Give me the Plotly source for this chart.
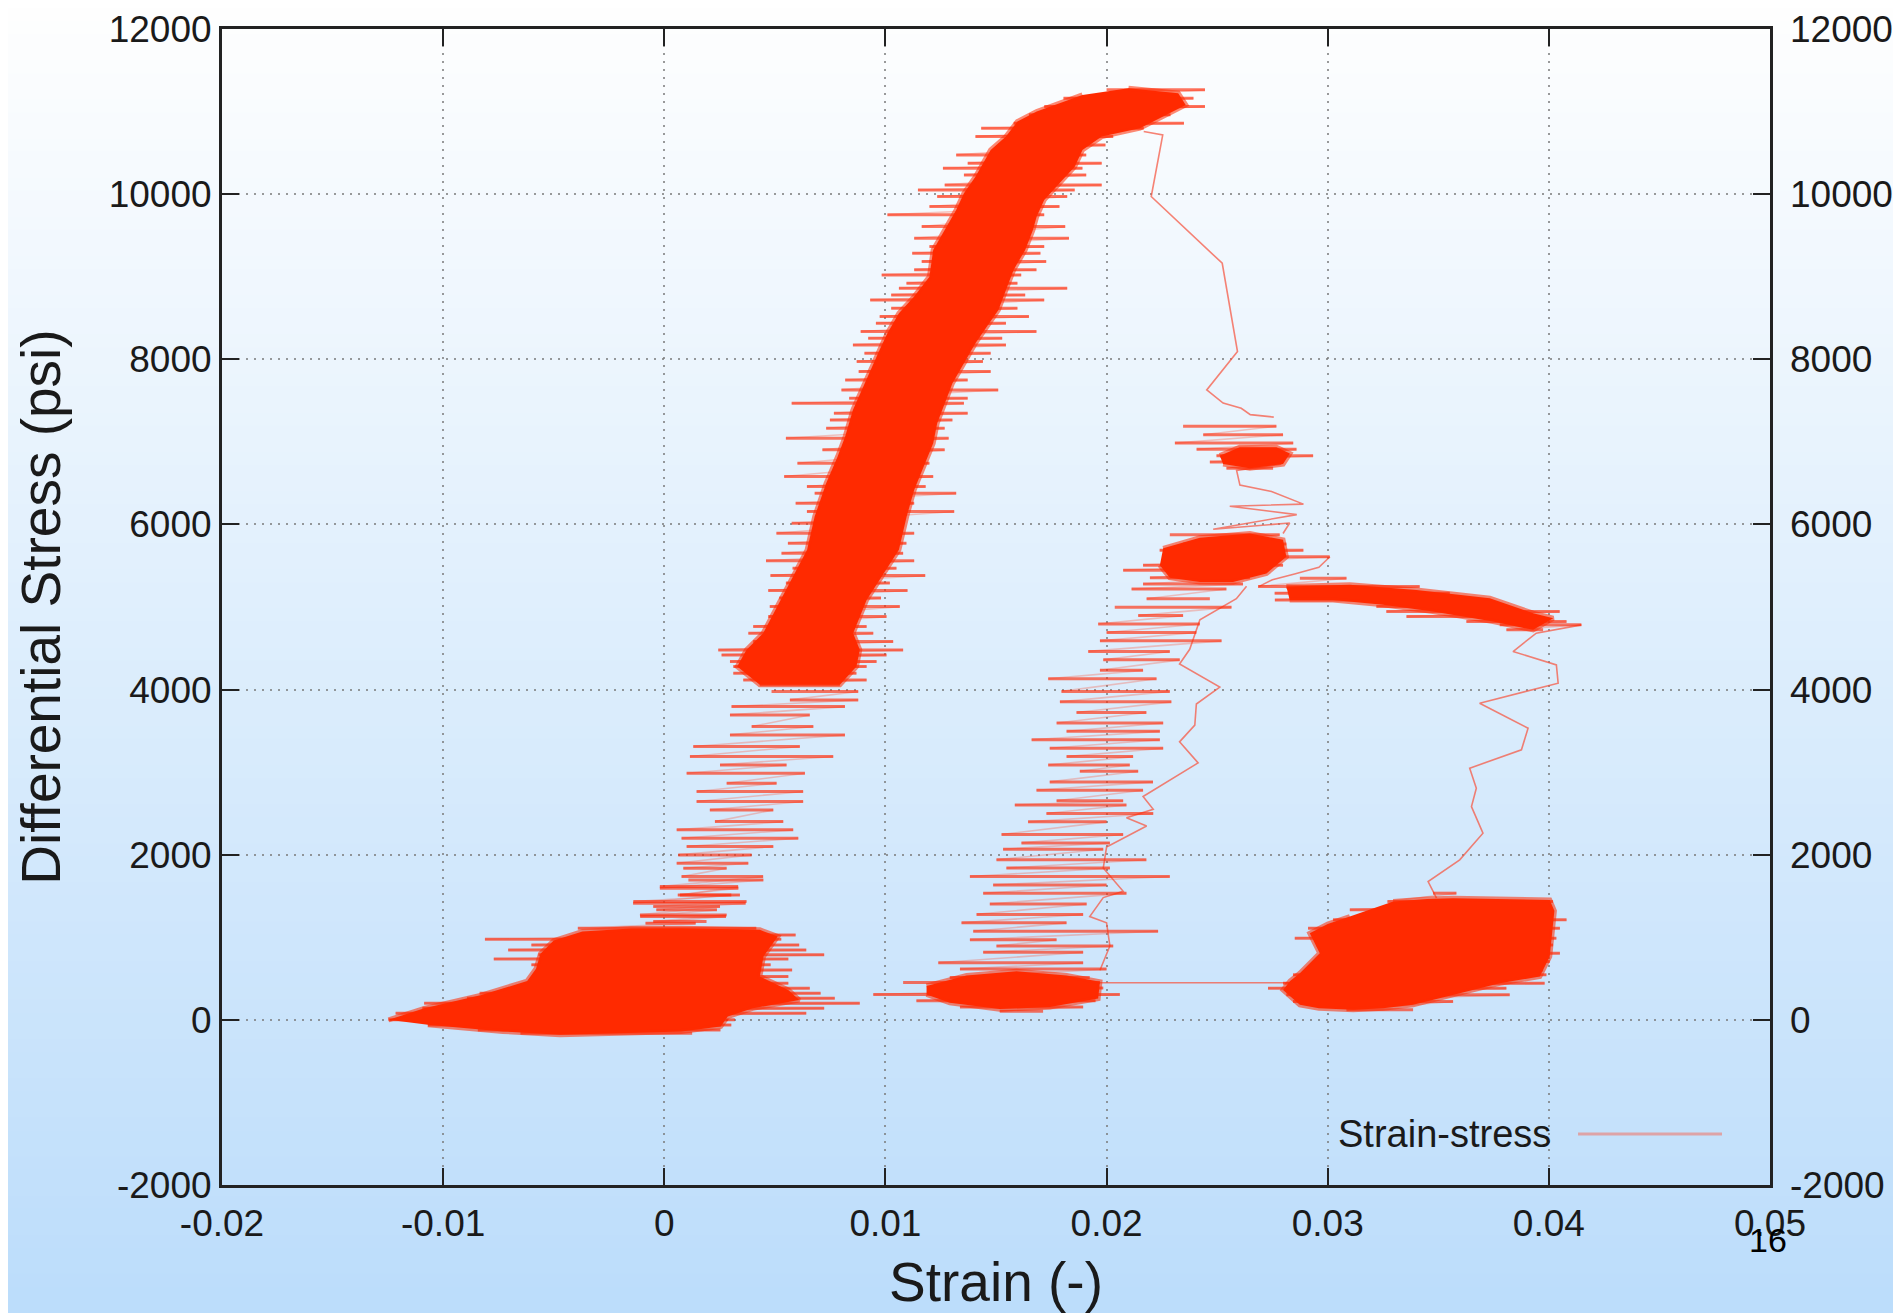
import plotly.graph_objects as go

# ---- axes ----
strain_ticks = [-0.02, -0.01, 0, 0.01, 0.02, 0.03, 0.04, 0.05]
strain_tick_text = ['-0.02', '-0.01', '0', '0.01', '0.02', '0.03', '0.04', '0.05']
stress_ticks = [-2000, 0, 2000, 4000, 6000, 8000, 10000, 12000]
stress_tick_text = ['-2000', '0', '2000', '4000', '6000', '8000', '10000', '12000']

# ---- dense cores (outlines) ----
bl_core_strain = [-0.01247, -0.01085, -0.00827, -0.0062, -0.0058, -0.0056, -0.0050, -0.0037, -0.0015, 0.00077,
                  0.00432, 0.00513, 0.00449, 0.00432, 0.00562, 0.0061, 0.0040, 0.00287, 0.00255, 0.00077,
                  -0.00165, -0.00472, -0.0073, -0.01069]
bl_core_stress = [0, 140, 300, 470, 620, 800, 960, 1070, 1105, 1110, 1090, 1010, 770, 525, 360, 240, 140, 40,
                  -80, -140, -160, -180, -140, -60]

main_core_strain = [0.01891, 0.01684, 0.01597, 0.01545, 0.01476, 0.01407, 0.01355, 0.0132, 0.01268, 0.01216,
                    0.01199, 0.0113, 0.01061, 0.01009, 0.00974, 0.0094, 0.00888, 0.00853, 0.00818, 0.00784,
                    0.00732, 0.0068, 0.00646, 0.0053, 0.00447, 0.00372, 0.0033, 0.00432,
                    0.00794, 0.00869, 0.00884, 0.00854, 0.00915, 0.01061, 0.01096, 0.0113, 0.01182, 0.01216,
                    0.01234, 0.01268, 0.01303, 0.01355, 0.01407, 0.01459, 0.01511, 0.01545, 0.0158, 0.01632,
                    0.01667, 0.01684, 0.01718, 0.01787, 0.01856, 0.01891, 0.01978, 0.02151, 0.02358, 0.02324,
                    0.02099]
main_core_stress = [11202, 11000, 10879, 10697, 10536, 10212, 10011, 9809, 9567, 9325, 9001, 8759, 8558, 8316,
                    8114, 7912, 7629, 7387, 7064, 6822, 6499, 6095, 5692, 5086, 4683, 4481, 4279, 4057,
                    4057, 4279, 4481, 4683, 5086, 5692, 6095, 6418, 6742, 6984, 7226, 7468, 7711, 7953, 8195,
                    8396, 8598, 8840, 9083, 9325, 9567, 9728, 9930, 10132, 10333, 10536, 10697, 10798, 11081,
                    11222, 11283]

sb_core_strain = [0.01186, 0.01367, 0.01593, 0.01819, 0.0197, 0.01962, 0.01743, 0.01517, 0.01291, 0.01186]
sb_core_stress = [410, 538, 589, 538, 461, 258, 156, 130, 207, 308]

mb2_core_strain = [0.02256, 0.02422, 0.02648, 0.02798, 0.02813, 0.02723, 0.02572, 0.02422, 0.02286, 0.02241]
mb2_core_stress = [5711, 5839, 5890, 5813, 5609, 5405, 5303, 5303, 5354, 5507]

tb_core_strain = [0.02512, 0.02602, 0.02768, 0.02829, 0.02798, 0.02648, 0.02527]
tb_core_stress = [6833, 6935, 6935, 6858, 6731, 6680, 6731]

rb_core_strain = [0.02813, 0.031, 0.03401, 0.03733, 0.03929, 0.0402, 0.03929, 0.03748, 0.03476, 0.0325,
                  0.03024, 0.02828]
rb_core_stress = [5248, 5268, 5207, 5106, 4925, 4864, 4723, 4824, 4945, 5026, 5086, 5086]

br_core_strain = [0.03296, 0.0345, 0.03567, 0.0380, 0.04004, 0.04025, 0.04019, 0.04004, 0.03959, 0.03778,
                  0.03597, 0.03386, 0.0325, 0.03115, 0.02960, 0.02874, 0.02798, 0.02830, 0.02874, 0.02964,
                  0.02919, 0.0300, 0.031]
br_core_stress = [1433, 1465, 1473, 1470, 1453, 1320, 1171, 767, 525, 444, 323, 182, 140, 121, 140, 182, 363,
                  470, 565, 807, 1049, 1160, 1251]

# ---- noisy strokes: stress level, left strain, right strain ----
bl_lvl_stress = [1695, 1594, 1513, 1412, 1332, 1251, 1170, 1110, 1029, 976, 908, 847, 787, 738, 666, 605, 524,
                 444, 383, 322, 262, 201, 141, 80, 0, -61, -122, -162]
bl_lvl_left = [0.00109, -0.0002, 0.00061, -0.00141, -0.00036, -0.00109, -0.00085, -0.00391, -0.00343, -0.00811,
               -0.00601, -0.00706, -0.00569, -0.00771, -0.00601, -0.00569, -0.00505, -0.00601, -0.00682,
               -0.00835, -0.00892, -0.01086, -0.01094, -0.01215, -0.01247, -0.01069, -0.00843, -0.0065]
bl_lvl_right = [0.00448, 0.00335, 0.00303, 0.00368, 0.00238, 0.00279, 0.00142, 0.00416, 0.00594, 0.00529, 0.0061,
                0.00642, 0.00723, 0.00561, 0.00481, 0.00578, 0.00561, 0.00561, 0.00658, 0.00707, 0.00771,
                0.00884, 0.00723, 0.00642, 0.00319, 0.00303, 0.00254, 0.00126]

lb_lvl_stress = [3976, 3875, 3794, 3693, 3552, 3451, 3310, 3189, 3088, 2987, 2866, 2765, 2644, 2543, 2401, 2301,
                 2200, 2099, 1998, 1897, 1836, 1735, 1614, 1513, 1433, 1372, 1271, 1190]
lb_lvl_left = [0.00485, 0.00568, 0.00304, 0.00297, 0.00395, 0.00297, 0.00131, 0.00116, 0.00252, 0.00101, 0.00282,
               0.00146, 0.00146, 0.00206, 0.00229, 0.00056, 0.00078, 0.00101, 0.00063, 0.00056, 0.00086,
               0.00078, -0.0002, 0.00071, -0.0014, -0.0005, -0.0011, -0.0005]
lb_lvl_right = [0.00877, 0.00877, 0.00817, 0.00658, 0.00674, 0.00817, 0.00613, 0.00764, 0.00553, 0.00636, 0.00508,
                0.00628, 0.00628, 0.00493, 0.00538, 0.00583, 0.00606, 0.00493, 0.00395, 0.0038, 0.00282,
                0.00447, 0.00334, 0.00342, 0.00372, 0.00252, 0.00282, 0.00191]

mb_lvl_stress = [11263, 11162, 11061, 10960, 10859, 10798, 10697, 10596, 10475, 10374, 10314, 10233, 10112,
                 10051, 9971, 9850, 9749, 9607, 9466, 9365, 9284, 9184, 9083, 9022, 8921, 8861, 8780, 8719,
                 8618, 8517, 8437, 8336, 8255, 8174, 8073, 7973, 7851, 7750, 7629, 7528, 7468, 7347, 7266,
                 7165, 7044, 6903, 6741, 6580, 6459, 6378, 6257, 6156, 6015, 5893, 5772, 5650, 5560, 5470,
                 5380, 5290, 5200, 5110, 5005, 4884, 4763, 4682, 4581, 4480, 4420, 4339, 4279, 4198, 4117, 4057]
mb_lvl_left = [0.0200, 0.01805, 0.01718, 0.01649, 0.0158, 0.01433, 0.01407, 0.0151, 0.0132, 0.01372, 0.0126,
               0.01355, 0.01268, 0.01147, 0.01234, 0.01199, 0.01009, 0.01164, 0.0113, 0.01199, 0.01121, 0.01164,
               0.0113, 0.00983, 0.01095, 0.01061, 0.01026, 0.00931, 0.01026, 0.00974, 0.00957, 0.00888, 0.00922,
               0.00853, 0.00905, 0.0087, 0.00879, 0.00818, 0.00801, 0.00836, 0.00576, 0.00767, 0.00749, 0.00732,
               0.0055, 0.00715, 0.00602, 0.00542, 0.00645, 0.0068, 0.00594, 0.00645, 0.00576, 0.00507, 0.00559,
               0.0053, 0.0046, 0.0058, 0.0048, 0.0055, 0.0047, 0.0052, 0.00477, 0.0047, 0.00402, 0.0038, 0.00402,
               0.00244, 0.00259, 0.00297, 0.00312, 0.00312, 0.00357, 0.00432]
mb_lvl_right = [0.02445, 0.02393, 0.02445, 0.02289, 0.0235, 0.02168, 0.0203, 0.01995, 0.01908, 0.01978, 0.01891,
                0.01908, 0.01978, 0.01856, 0.01822, 0.01787, 0.01718, 0.01813, 0.0183, 0.01718, 0.01701, 0.01727,
                0.01683, 0.01614, 0.01597, 0.01822, 0.01632, 0.01718, 0.01597, 0.01649, 0.01545, 0.01683,
                0.01528, 0.01545, 0.01476, 0.01441, 0.01476, 0.01372, 0.0151, 0.01372, 0.01355, 0.01372, 0.01303,
                0.01268, 0.01286, 0.01268, 0.01199, 0.01216, 0.01182, 0.0132, 0.0113, 0.01311, 0.01061, 0.0113,
                0.01095, 0.0108, 0.0113, 0.0105, 0.0118, 0.0102, 0.011, 0.0098, 0.01065, 0.01005, 0.00915,
                0.00945, 0.01035, 0.0108, 0.01005, 0.0096, 0.00915, 0.00869, 0.00915, 0.00794]

db_lvl_stress = [4998, 4896, 4794, 4692, 4590, 4462, 4360, 4233, 4131, 3978, 3851, 3723, 3596, 3494, 3392, 3290,
                 3188, 3086, 3010, 2882, 2780, 2653, 2602, 2500, 2398, 2245, 2143, 2067, 1939, 1838, 1736, 1634,
                 1532, 1404, 1277, 1175, 1073, 971, 895, 818, 691, 615, 513]
db_lvl_left = [0.02037, 0.02143, 0.01962, 0.02, 0.0197, 0.01917, 0.01985, 0.0197, 0.01736, 0.01796, 0.01789,
               0.01864, 0.01774, 0.01819, 0.01661, 0.01743, 0.01819, 0.01736, 0.01879, 0.01743, 0.01683, 0.01774,
               0.01585, 0.01728, 0.01645, 0.01525, 0.01615, 0.01532, 0.01502, 0.01547, 0.01382, 0.01487,
               0.01442, 0.01472, 0.01412, 0.01344, 0.01397, 0.01382, 0.01502, 0.01442, 0.01239, 0.01337, 0.01291]
db_lvl_right = [0.02565, 0.02346, 0.02422, 0.02406, 0.0252, 0.02286, 0.02331, 0.02165, 0.02226, 0.02286, 0.02293,
                0.0218, 0.02256, 0.02241, 0.02241, 0.02256, 0.0212, 0.02105, 0.02143, 0.0221, 0.02165, 0.02075,
                0.0209, 0.02211, 0.02, 0.02075, 0.02015, 0.01985, 0.0218, 0.02015, 0.02286, 0.02, 0.0209, 0.0191,
                0.01894, 0.01819, 0.02233, 0.01774, 0.0203, 0.01894, 0.01894, 0.02, 0.01924]

sb_lvl_stress = [451, 385, 308, 232, 156, 105]
sb_lvl_left = [0.0108, 0.01216, 0.00945, 0.0114, 0.01337, 0.01517]
sb_lvl_right = [0.0197, 0.01985, 0.0206, 0.0195, 0.01894, 0.01713]

mb2_lvl_stress = [5874, 5762, 5686, 5609, 5507, 5446, 5354, 5278, 5217, 5100]
mb2_lvl_left = [0.02286, 0.02346, 0.0224, 0.02256, 0.02165, 0.02075, 0.02196, 0.02165, 0.02113, 0.02181]
mb2_lvl_right = [0.02783, 0.02813, 0.0289, 0.03009, 0.02798, 0.02723, 0.02648, 0.02617, 0.02542, 0.02467]

tb_lvl_stress = [7189, 7087, 6985, 6909, 6833, 6756, 6680]
tb_lvl_left = [0.02346, 0.02437, 0.02309, 0.02407, 0.02497, 0.02467, 0.02542]
tb_lvl_right = [0.02768, 0.02798, 0.02844, 0.02859, 0.02934, 0.02798, 0.02753]

rb_lvl_stress = [5349, 5248, 5167, 5086, 5006, 4945, 4884, 4824, 4784, 4723]
rb_lvl_left = [0.02874, 0.02685, 0.0276, 0.02761, 0.0322, 0.03265, 0.03356, 0.03627, 0.03778, 0.03808]
rb_lvl_right = [0.03085, 0.03416, 0.03552, 0.03476, 0.03748, 0.04049, 0.03929, 0.0408, 0.04147, 0.03974]

br_lvl_stress = [1534, 1433, 1332, 1211, 1110, 989, 908, 807, 706, 605, 545, 444, 383, 303, 222, 121]
br_lvl_left = [0.03476, 0.0327, 0.031, 0.03024, 0.02911, 0.02851, 0.02949, 0.02994, 0.03009, 0.02919, 0.02843,
               0.02798, 0.0273, 0.02813, 0.02843, 0.03085]
br_lvl_right = [0.03582, 0.04019, 0.04019, 0.0408, 0.0405, 0.04034, 0.04019, 0.0405, 0.04004, 0.03974, 0.03989,
                0.03981, 0.03808, 0.03823, 0.03567, 0.03386]

# ---- single thin connecting runs ----
drop_strain = [0.02168, 0.02254, 0.02202, 0.02523, 0.02592, 0.02453, 0.02527, 0.02609, 0.0265, 0.02756]
drop_stress = [10758, 10718, 9971, 9163, 8094, 7629, 7470, 7407, 7330, 7300]
mid_strain = [0.0279, 0.02588, 0.02603, 0.02746, 0.0289, 0.02557, 0.0286, 0.02482, 0.02828, 0.02798]
mid_stress = [6730, 6654, 6476, 6399, 6246, 6221, 6119, 5941, 6017, 5890]
flow_strain = [0.0301, 0.0296, 0.0285, 0.0275, 0.0269]
flow_stress = [5609, 5480, 5400, 5330, 5250]
unload_strain = [0.04147, 0.03943, 0.03838, 0.04034, 0.04042, 0.03687, 0.03906, 0.03876, 0.03642, 0.03672,
                 0.0365, 0.03702, 0.03597, 0.03454, 0.03492]
unload_stress = [4784, 4683, 4461, 4299, 4077, 3835, 3532, 3270, 3048, 2806, 2583, 2261, 1938, 1675, 1473]
shift_strain = [0.0284, 0.0197]
shift_stress = [450, 450]
reload_strain = [0.02633, 0.02587, 0.02422, 0.02376, 0.0233, 0.02512, 0.02406, 0.02399, 0.0233, 0.02414, 0.02165,
                 0.02211, 0.0209, 0.02181, 0.02, 0.01985, 0.02075, 0.01985, 0.01924, 0.02, 0.02015, 0.0197]
reload_stress = [5252, 5100, 4845, 4488, 4310, 4029, 3825, 3570, 3367, 3112, 2704, 2551, 2449, 2347, 2092, 1838,
                 1557, 1481, 1251, 1175, 895, 600]

CORE = '#ff2a00'
STROKE = 'rgba(255, 45, 10, 0.65)'
RETURN = 'rgba(255, 60, 30, 0.28)'
THIN = 'rgba(245, 90, 70, 0.75)'
FONT = 'Liberation Sans'


def strokes(stress, left, right):
    # one horizontal stroke per stress level
    xs, ys = [], []
    for s, l, r in zip(stress, left, right):
        xs += [l, r, None]
        ys += [s, s, None]
    return xs, ys


def returns(stress, left, right):
    # faint jump from the end of one stroke to the start of the next
    xs, ys = [], []
    for i in range(len(stress) - 1):
        xs += [right[i], left[i + 1], None]
        ys += [stress[i], stress[i + 1], None]
    return xs, ys


def join(*runs):
    xs, ys = [], []
    for rx, ry in runs:
        xs += list(rx) + [None]
        ys += list(ry) + [None]
    return xs, ys


fig = go.Figure()

# thin runs
tx, ty = join((drop_strain, drop_stress), (mid_strain, mid_stress), (flow_strain, flow_stress),
              (unload_strain, unload_stress), (shift_strain, shift_stress), (reload_strain, reload_stress))
fig.add_trace(go.Scatter(x=tx, y=ty, mode='lines', line=dict(color=THIN, width=1.6),
                         hoverinfo='skip', showlegend=False))

# noisy strokes
levels = [
    (bl_lvl_stress, bl_lvl_left, bl_lvl_right),
    (lb_lvl_stress, lb_lvl_left, lb_lvl_right),
    (mb_lvl_stress, mb_lvl_left, mb_lvl_right),
    (db_lvl_stress, db_lvl_left, db_lvl_right),
    (sb_lvl_stress, sb_lvl_left, sb_lvl_right),
    (mb2_lvl_stress, mb2_lvl_left, mb2_lvl_right),
    (tb_lvl_stress, tb_lvl_left, tb_lvl_right),
    (rb_lvl_stress, rb_lvl_left, rb_lvl_right),
    (br_lvl_stress, br_lvl_left, br_lvl_right),
]
for s, l, r in levels:
    rx, ry = returns(s, l, r)
    fig.add_trace(go.Scatter(x=rx, y=ry, mode='lines', line=dict(color=RETURN, width=1.6),
                             hoverinfo='skip', showlegend=False))
    sx, sy = strokes(s, l, r)
    fig.add_trace(go.Scatter(x=sx, y=sy, mode='lines', line=dict(color=STROKE, width=3),
                             hoverinfo='skip', showlegend=False))

# dense cores, with a soft edge
cx, cy = join((bl_core_strain, bl_core_stress), (main_core_strain, main_core_stress),
              (sb_core_strain, sb_core_stress), (mb2_core_strain, mb2_core_stress),
              (tb_core_strain, tb_core_stress), (rb_core_strain, rb_core_stress),
              (br_core_strain, br_core_stress))
fig.add_trace(go.Scatter(x=cx, y=cy, mode='lines', fill='toself', fillcolor=CORE,
                         line=dict(color='rgba(255, 42, 0, 0.55)', width=5), name='Strain-stress',
                         hoverinfo='skip', showlegend=False))

# dummy trace so the right-hand axis is drawn
fig.add_trace(go.Scatter(x=[None], y=[None], yaxis='y2', showlegend=False, hoverinfo='skip'))

# the page adds an 8 px body margin, so the figure is 8 px smaller and margins shifted
PAGE_OFF = 8
W, H = 1901 - PAGE_OFF, 1313 - PAGE_OFF
L, R, T, B = 222 - PAGE_OFF, 131, 29 - PAGE_OFF, 128
pw, ph = W - L - R, H - T - B

# page background: white to light blue, top to bottom
shapes = []
n_bands = 100
for i in range(n_bands):
    y0 = i * H / n_bands
    y1 = (i + 1) * H / n_bands + 1
    t = ((y0 + y1) / 2 + PAGE_OFF) / 1313
    col = 'rgb(%d,%d,%d)' % (255 - t * 67, 255 - t * 34, 255 - t * 4)
    shapes.append(dict(type='rect', xref='paper', yref='paper', layer='below',
                       x0=-L / pw, x1=(W - L) / pw, y0=(H - B - y1) / ph, y1=(H - B - y0) / ph,
                       fillcolor=col, line=dict(width=0)))
# legend sample line
shapes.append(dict(type='line', xref='paper', yref='paper', x0=0.876, x1=0.969, y0=0.0441, y1=0.0441,
                   line=dict(color='#dda3a6', width=3)))

axis_common = dict(
    ticks='inside', ticklen=17, tickwidth=2, tickcolor='#222',
    showline=True, linewidth=3, linecolor='#222', mirror='ticks',
    showgrid=True, gridcolor='rgba(120,120,120,0.75)', gridwidth=1.5, griddash='2px,6px',
    zeroline=False, automargin=False, tickfont=dict(family=FONT, size=37, color='#1a1a1a'),
)

fig.update_layout(
    width=W, height=H,
    margin=dict(l=L, r=R, t=T, b=B),
    paper_bgcolor='white',
    plot_bgcolor='rgba(0,0,0,0)',
    showlegend=False,
    font=dict(family=FONT, color='#1a1a1a'),
    xaxis=dict(range=[-0.02, 0.05], tickvals=strain_ticks, ticktext=strain_tick_text,
               ticklabelstandoff=4,
               title=dict(text='Strain (-)', font=dict(family=FONT, size=55, color='#1a1a1a'), standoff=20),
               **axis_common),
    yaxis=dict(range=[-2000, 12000], tickvals=stress_ticks, ticktext=stress_tick_text,
               ticklabelstandoff=0,
               title=dict(text='Differential Stress (psi)', font=dict(family=FONT, size=55, color='#1a1a1a'),
                          standoff=31),
               **axis_common),
    yaxis2=dict(range=[-2000, 12000], overlaying='y', side='right', tickvals=stress_ticks,
                ticktext=stress_tick_text, ticks='', showgrid=False, showline=False, zeroline=False,
                automargin=False, ticklabelstandoff=19, tickfont=dict(family=FONT, size=37, color='#1a1a1a')),
    shapes=shapes,
    annotations=[
        dict(text='Strain-stress', xref='paper', yref='paper', x=0.8598, y=0.0441, xanchor='right',
             yanchor='middle', showarrow=False, font=dict(family=FONT, size=38, color='#1a1a1a')),
        dict(text='16', xref='paper', yref='paper', x=0.9987, y=-0.0476, xanchor='center',
             yanchor='middle', showarrow=False, font=dict(family=FONT, size=34, color='black')),
    ],
)

fig.write_html("out.html")
